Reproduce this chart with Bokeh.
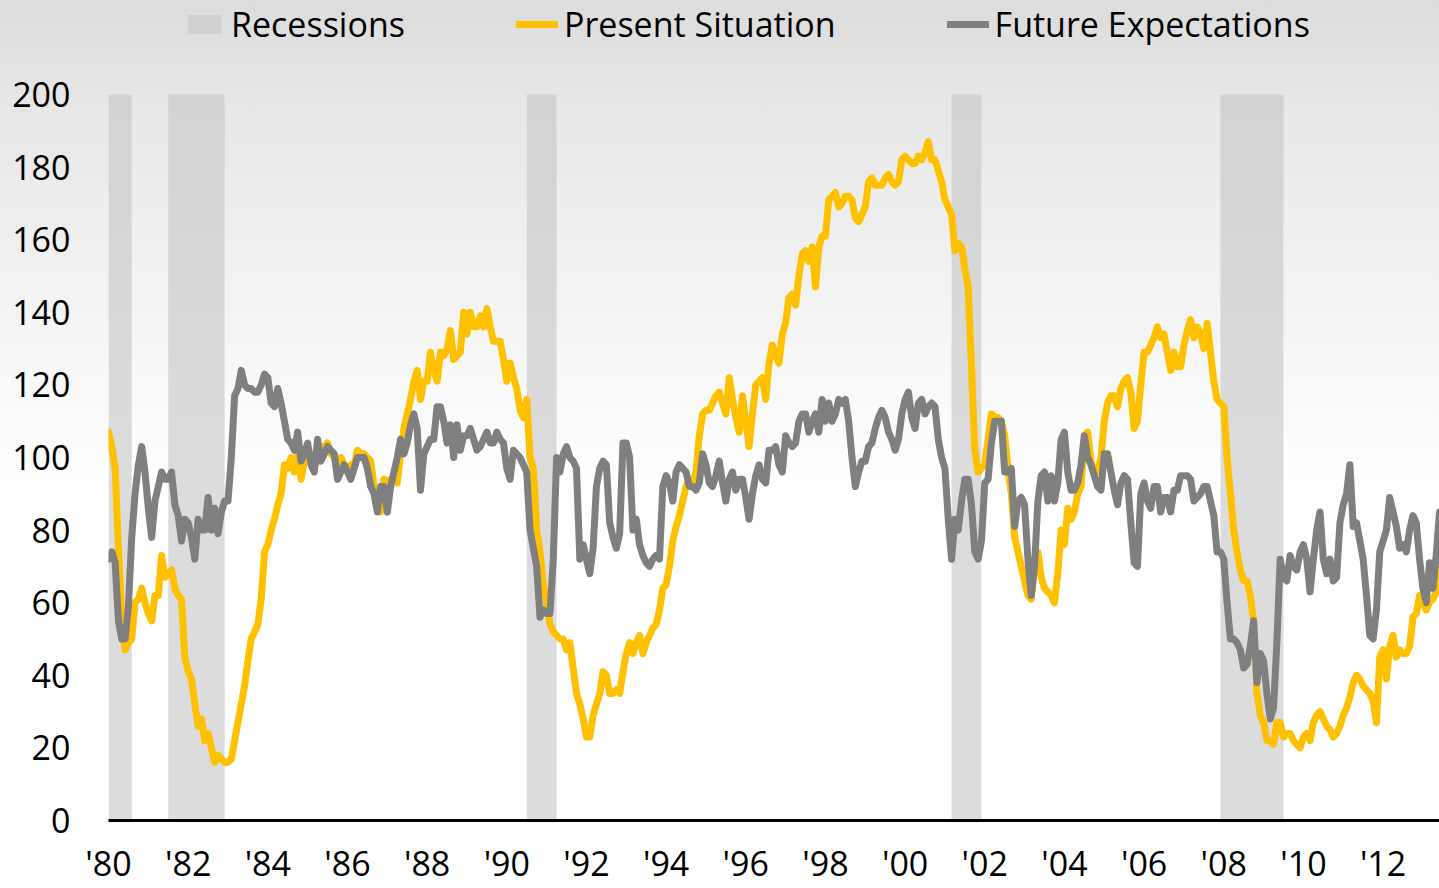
import numpy as np
from bokeh.plotting import figure
from bokeh.models import Range1d, FixedTicker, Legend
from bokeh.embed import file_html
from bokeh.resources import INLINE
from bokeh.core.properties import value

# Monthly index values, Jan 1980 - Jun 2013
present = [
    107, 103, 97, 75, 55, 47, 49, 50, 60, 61, 64, 60,          # 1980
    57, 55, 62, 62, 73, 67, 68, 69, 64, 62, 61, 45,            # 1981
    41, 39, 32, 26, 28, 22, 24, 20, 16, 18, 17, 16,            # 1982
    16, 17, 22, 27, 32, 37, 44, 50, 52, 54, 61, 74,            # 1983
    76, 80, 83, 87, 90, 98, 97, 100, 96, 101, 94, 99,          # 1984
    100, 101, 97, 101, 100, 103, 104, 101, 100, 97, 100, 98,   # 1985
    97, 98, 98, 102, 101, 101, 100, 99, 92, 88, 85, 94,        # 1986
    85, 94, 94, 93, 101, 108, 112, 116, 121, 124, 116, 121,    # 1987
    121, 129, 124, 121, 129, 128, 130, 135, 127, 128, 129, 140,  # 1988
    134, 140, 136, 136, 139, 136, 141, 136, 132, 132, 132, 127,  # 1989
    121, 126, 122, 119, 113, 111, 116, 100, 97, 80, 74, 65,    # 1990
    60, 54, 52, 51, 50, 50, 47, 49, 42, 35, 32, 28,            # 1991
    23, 23, 29, 32, 35, 41, 40, 35, 35, 36, 35, 41,            # 1992
    46, 49, 46, 49, 51, 46, 49, 51, 53, 54, 58, 64,            # 1993
    65, 70, 77, 81, 84, 88, 92, 94, 93, 96, 106, 112,          # 1994
    113, 113, 115, 117, 118, 115, 112, 122, 116, 111, 107, 117,  # 1995
    110, 103, 112, 120, 121, 122, 116, 126, 131, 128, 126, 134,  # 1996
    137, 144, 145, 142, 150, 156, 157, 154, 158, 147, 158, 161,  # 1997
    161, 171, 172, 173, 169, 170, 172, 172, 171, 166, 165, 167,  # 1998
    169, 176, 177, 175, 175, 175, 177, 178, 176, 175, 176, 182,  # 1999
    183, 182, 181, 181, 183, 182, 184, 187, 182, 182, 179, 176,  # 2000
    171, 169, 167, 157, 159, 158, 152, 147, 125, 102, 96, 97,    # 2001
    98, 105, 112, 111, 111, 110, 106, 97, 90, 78, 74, 70,      # 2002
    66, 62, 61, 70, 74, 67, 64, 63, 62, 60, 68, 80,            # 2003
    76, 86, 83, 85, 90, 92, 106, 107, 99, 96, 96, 100,         # 2004
    110, 115, 117, 117, 114, 119, 121, 122, 118, 108, 110, 120,  # 2005
    129, 129, 131, 133, 136, 133, 134, 129, 124, 129, 125, 125,  # 2006
    131, 135, 138, 133, 136, 134, 130, 137, 129, 121, 116, 115,  # 2007
    114, 100, 90, 80, 74, 69, 66, 66, 62, 55, 35, 29,          # 2008
    27, 22, 22, 21, 27, 27, 23, 24, 24, 22, 21, 20,            # 2009
    23, 24, 22, 27, 29, 30, 28, 26, 25, 23, 24, 26,            # 2010
    29, 31, 34, 38, 40, 39, 37, 36, 35, 33, 27, 45,            # 2011
    47, 39, 48, 51, 45, 47, 46, 46, 48, 56, 57, 62,            # 2012
    60, 58, 60, 61, 63, 69,                                    # 2013
]

future = [
    72, 74, 71, 55, 50, 50, 59, 78, 90, 98, 103, 96,           # 1980
    86, 78, 88, 92, 96, 94, 94, 96, 87, 84, 77, 83,            # 1981
    82, 78, 72, 83, 80, 80, 89, 80, 86, 79, 85, 88,            # 1982
    88, 100, 117, 119, 124, 120, 119, 119, 118, 118, 120, 123,  # 1983
    122, 115, 114, 119, 115, 110, 105, 104, 102, 107, 99, 101,  # 1984
    104, 98, 96, 105, 99, 101, 103, 102, 101, 94, 96, 98,      # 1985
    96, 94, 97, 100, 100, 100, 97, 92, 90, 85, 92, 92,         # 1986
    85, 92, 96, 100, 105, 101, 104, 109, 112, 108, 91, 101,    # 1987
    103, 105, 105, 114, 114, 110, 104, 109, 100, 109, 102, 106,  # 1988
    106, 108, 105, 102, 103, 105, 107, 104, 104, 107, 105, 104,  # 1989
    97, 94, 102, 101, 100, 98, 96, 80, 75, 70, 56, 58,         # 1990
    57, 57, 72, 100, 96, 101, 103, 100, 99, 97, 72, 76,        # 1991
    72, 68, 75, 92, 97, 99, 98, 82, 78, 75, 79, 104,           # 1992
    104, 100, 80, 83, 76, 73, 71, 70, 72, 73, 72, 92,          # 1993
    95, 93, 88, 96, 98, 97, 96, 92, 92, 91, 93, 101,           # 1994
    98, 93, 92, 95, 99, 93, 88, 94, 96, 91, 94, 94,            # 1995
    89, 83, 90, 95, 98, 94, 93, 102, 102, 103, 98, 96,         # 1996
    106, 104, 103, 104, 110, 112, 112, 107, 110, 112, 107, 116,  # 1997
    110, 115, 110, 112, 116, 115, 116, 110, 100, 92, 96, 99,   # 1998
    99, 103, 104, 108, 111, 113, 111, 107, 105, 102, 105, 112,  # 1999
    116, 118, 111, 108, 115, 116, 112, 114, 115, 114, 105, 100,  # 2000
    97, 83, 72, 83, 80, 88, 94, 94, 87, 74, 72, 77,            # 2001
    93, 94, 104, 110, 110, 110, 96, 96, 97, 81, 88, 89,        # 2002
    87, 72, 62, 70, 88, 95, 96, 88, 95, 88, 93, 105,           # 2003
    107, 96, 91, 91, 93, 98, 106, 100, 98, 95, 92, 91,         # 2004
    101, 101, 96, 91, 87, 93, 95, 94, 82, 71, 70, 90,          # 2005
    93, 88, 86, 92, 92, 85, 89, 89, 85, 91, 91, 95,            # 2006
    95, 95, 94, 88, 89, 90, 92, 92, 88, 84, 74, 74,            # 2007
    72, 60, 50, 50, 49, 47, 42, 43, 48, 55, 38, 46,            # 2008
    44, 35, 28, 31, 49, 72, 67, 66, 73, 70, 69, 74,            # 2009
    76, 72, 63, 72, 80, 85, 72, 68, 72, 66, 67, 82,            # 2010
    87, 90, 98, 81, 82, 77, 72, 62, 51, 50, 58, 74,            # 2011
    77, 80, 89, 85, 81, 75, 76, 74, 80, 84, 82, 72,            # 2012
    64, 60, 71, 64, 73, 85,                                    # 2013
]

rec_start = ["1980-01", "1981-07", "1990-07", "2001-03", "2007-12"]
rec_end = ["1980-08", "1982-12", "1991-04", "2001-12", "2009-07"]

tick_years = list(range(1980, 2013, 2))
tick_labels = ["'" + str(y)[2:] for y in tick_years]
y_ticks = list(range(0, 201, 20))


def ym(s):
    y, m = s.split("-")
    return int(y) + (int(m) - 1) / 12.0


n = len(present)
assert n == len(future)
xs = 1980 + np.arange(n) / 12.0
FONT = "Open Sans"

FIG_W = 1439
FIG_H = 888
BOTTOM_BORDER = 68
frame_bottom_px = FIG_H - BOTTOM_BORDER     # px where value 0 sits
px_per_unit = (frame_bottom_px - 94) / 200.0  # value 200 at px 94
y_top = frame_bottom_px / px_per_unit

p = figure(width=FIG_W, height=FIG_H, output_backend="svg", toolbar_location=None,
           x_range=Range1d(1980, xs[-1]), y_range=Range1d(0, y_top),
           min_border_left=108, min_border_right=0, min_border_top=0,
           min_border_bottom=BOTTOM_BORDER)
p.outline_line_color = None
p.background_fill_color = None
p.border_fill_color = None
p.styles = {"background": "linear-gradient(to bottom, #dcdcdc 0%, #e7e7e7 12%, #ffffff 55%, #ffffff 100%)"}
p.xgrid.visible = False
p.ygrid.visible = False

r_rec = p.quad(left=[ym(s) for s in rec_start], right=[ym(e) for e in rec_end],
               bottom=0, top=200, fill_color="#c8c8c8", fill_alpha=0.64, line_color=None)
r_ps = p.line(xs, present, line_color="#FFC000", line_width=7, line_join="round", line_cap="round")
r_fe = p.line(xs, future, line_color="#7F7F7F", line_width=7, line_join="round", line_cap="round")

p.xaxis.ticker = FixedTicker(ticks=tick_years)
p.xaxis.major_label_overrides = {y: l for y, l in zip(tick_years, tick_labels)}
p.xaxis.axis_line_color = "black"
p.xaxis.axis_line_width = 3
p.xaxis.major_tick_line_color = None
p.xaxis.minor_tick_line_color = None
p.xaxis.major_label_standoff = 13
p.xaxis.major_label_text_line_height = 0.6
p.xaxis.major_label_text_font = FONT
p.xaxis.major_label_text_font_size = "34px"
p.xaxis.major_label_text_color = "black"

p.yaxis.ticker = FixedTicker(ticks=y_ticks)
p.yaxis.axis_line_color = None
p.yaxis.major_tick_line_color = None
p.yaxis.minor_tick_line_color = None
p.yaxis.major_label_standoff = 32
p.yaxis.major_label_text_font = FONT
p.yaxis.major_label_text_font_size = "34px"
p.yaxis.major_label_text_color = "black"

legend = Legend(items=[("Recessions", [r_rec]), ("Present Situation", [r_ps]),
                       ("Future Expectations", [r_fe])],
                orientation="horizontal", location=(75, frame_bottom_px - 47),
                glyph_width=42, glyph_height=24, label_standoff=6, spacing=111,
                padding=0, margin=0, border_line_color=None, background_fill_alpha=0,
                label_text_font=FONT, label_text_font_size="34px", label_text_color="black")
p.add_layout(legend)

open("out.html", "w").write(file_html(p, INLINE))
